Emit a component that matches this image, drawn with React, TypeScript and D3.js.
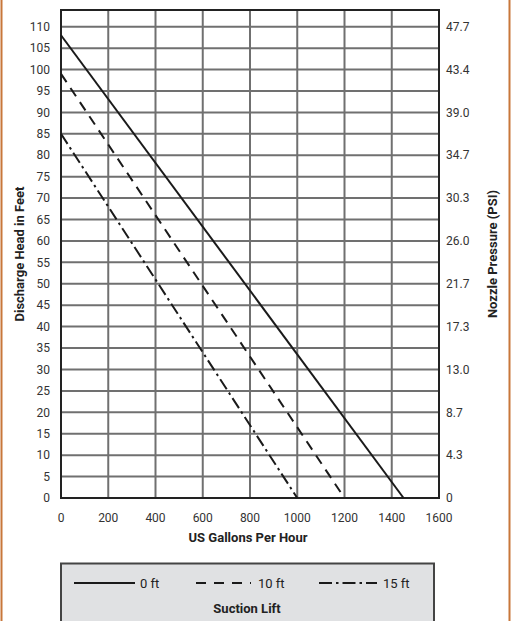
import React from "react";
import * as d3 from "d3";

const xTicks = [0, 200, 400, 600, 800, 1000, 1200, 1400, 1600];
const yTicks = [0, 5, 10, 15, 20, 25, 30, 35, 40, 45, 50, 55, 60, 65, 70, 75, 80, 85, 90, 95, 100, 105, 110];
const psiTickFeet = [0, 10, 20, 30, 40, 50, 60, 70, 80, 90, 100, 110];
const psiLabels = ["0", "4.3", "8.7", "13.0", "17.3", "21.7", "26.0", "30.3", "34.7", "39.0", "43.4", "47.7"];

const seriesNames = ["0 ft", "10 ft", "15 ft"];
const series0 = [{ gph: 0, head: 108 }, { gph: 1450, head: 0 }];
const series10 = [{ gph: 0, head: 99 }, { gph: 1200, head: 0 }];
const series15 = [{ gph: 0, head: 85 }, { gph: 1000, head: 0 }];
const dashes = ["none", "10,7", "12,4,2.5,4"];

export default function App() {
  const W = 511, H = 621;
  const left = 61, right = 439, top = 10, bottom = 498;
  const x = d3.scaleLinear().domain([0, 1600]).range([left, right]);
  const y = d3.scaleLinear().domain([0, 113.9]).range([bottom, top]);
  const line = d3.line<{ gph: number; head: number }>().x(d => x(d.gph)).y(d => y(d.head));
  const all = [series0, series10, series15];
  const font = "Roboto, 'Noto Sans', sans-serif";
  const txt = "#333";
  const legItems = [
    { x1: 74, x2: 135, tx: 140 },
    { x1: 196, x2: 251, tx: 258 },
    { x1: 319, x2: 377, tx: 383 },
  ];
  return (
    <svg width={W} height={H} style={{ position: "absolute", left: 0, top: 0 }} fontFamily={font}>
      <rect x={0} y={0} width={W} height={H} fill="#fff" />
      <line x1={1.5} x2={1.5} y1={0} y2={H} stroke="#c8773a" strokeWidth={2} />
      <line x1={509.5} x2={509.5} y1={0} y2={H} stroke="#c8773a" strokeWidth={2} />
      {xTicks.slice(1, -1).map(t => (
        <line key={"gx" + t} x1={x(t)} x2={x(t)} y1={top} y2={bottom} stroke="#707070" strokeWidth={2} />
      ))}
      {yTicks.slice(1).map(t => (
        <line key={"gy" + t} x1={left} x2={right} y1={y(t)} y2={y(t)} stroke="#707070" strokeWidth={2} />
      ))}
      <rect x={left} y={top} width={right - left} height={bottom - top} fill="none" stroke="#222" strokeWidth={2} />
      {all.map((s, i) => (
        <path key={i} d={line(s) || ""} fill="none" stroke="#1a1a1a" strokeWidth={2} strokeDasharray={dashes[i]} />
      ))}
      {yTicks.map(t => (
        <text key={"ly" + t} x={50} y={y(t)} dy="0.35em" textAnchor="end" fontSize={12} fill={txt}>{t}</text>
      ))}
      {psiTickFeet.map((t, i) => (
        <text key={"ry" + t} x={446} y={y(t)} dy="0.35em" textAnchor="start" fontSize={12} fill={txt}>{psiLabels[i]}</text>
      ))}
      {xTicks.map(t => (
        <text key={"tx" + t} x={x(t)} y={518} dy="0.35em" textAnchor="middle" fontSize={12} fill={txt}>{t}</text>
      ))}
      <text x={248} y={537} dy="0.35em" textAnchor="middle" fontSize={13} fontWeight="bold" fill="#222">US Gallons Per Hour</text>
      <text transform={`translate(19,${(top + bottom) / 2}) rotate(-90)`} dy="0.35em" textAnchor="middle" fontSize={13} fontWeight="bold" fill="#222">Discharge Head in Feet</text>
      <text transform={`translate(492,${(top + bottom) / 2}) rotate(-90)`} dy="0.35em" textAnchor="middle" fontSize={13} fontWeight="bold" fill="#222">Nozzle Pressure (PSI)</text>
      <rect x={61} y={563.5} width={373} height={70} fill="#e0e1e3" stroke="#444" strokeWidth={2} />
      {legItems.map((l, i) => (
        <g key={"lg" + i}>
          <line x1={l.x1} x2={l.x2} y1={583} y2={583} stroke="#1a1a1a" strokeWidth={2} strokeDasharray={i === 1 ? "10,8" : i === 2 ? "13,4,2.5,4" : "none"} />
          <text x={l.tx} y={583} dy="0.35em" fontSize={13} fill="#222">{seriesNames[i]}</text>
        </g>
      ))}
      <text x={247} y={608} dy="0.35em" textAnchor="middle" fontSize={13} fontWeight="bold" fill="#222">Suction Lift</text>
    </svg>
  );
}
